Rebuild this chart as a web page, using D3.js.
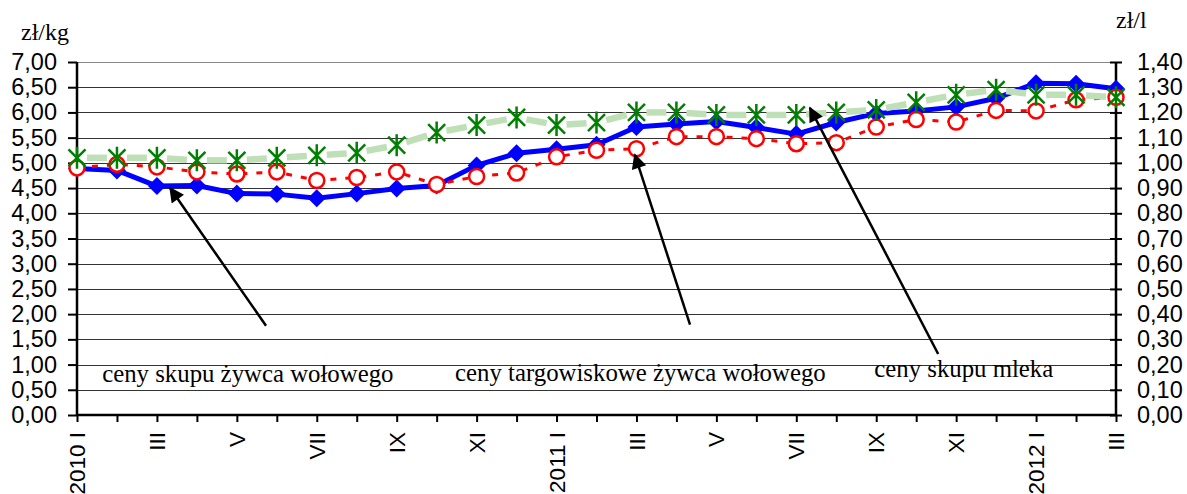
<!DOCTYPE html>
<html lang="pl">
<head>
<meta charset="utf-8">
<title>Ceny żywca wołowego i mleka</title>
<script src="https://d3js.org/d3.v7.min.js"></script>
<style>
  body { margin: 0; background: #fff; }
  svg { display: block; }
  .tick-lbl { font-family: "Liberation Sans", Arial, sans-serif; font-size: 23.5px; fill: #000; }
  .x-lbl { font-family: "Liberation Sans", Arial, sans-serif; font-size: 22.5px; fill: #000; }
  .unit, .note { font-family: "Liberation Serif", "Times New Roman", serif; fill: #000; }
  .unit { font-size: 24px; }
  .note { font-size: 24.8px; }
</style>
</head>
<body>
<div id="chart"></div>
<script>
// months 2010 I .. 2012 III
var months = ["2010 I","II","III","IV","V","VI","VII","VIII","IX","X","XI","XII",
              "2011 I","II","III","IV","V","VI","VII","VIII","IX","X","XI","XII",
              "2012 I","II","III"];

// ceny skupu żywca wołowego (zł/kg, left axis)
var skupWolowy = [4.89,4.85,4.54,4.55,4.39,4.38,4.30,4.39,4.49,4.55,4.95,5.19,
                  5.27,5.36,5.71,5.77,5.82,5.70,5.57,5.80,5.98,6.03,6.11,6.28,
                  6.58,6.57,6.47];

// ceny targowiskowe żywca wołowego (zł/kg, left axis)
var targWolowy = [4.90,4.97,4.92,4.82,4.78,4.82,4.65,4.71,4.82,4.57,4.73,4.80,
                  5.12,5.25,5.28,5.52,5.52,5.48,5.38,5.40,5.71,5.86,5.81,6.04,
                  6.03,6.25,6.30];

// ceny skupu mleka (zł/l, right axis)
var skupMleka = [1.02,1.02,1.02,1.01,1.01,1.02,1.03,1.04,1.07,1.12,1.15,1.18,
                 1.15,1.16,1.20,1.20,1.19,1.19,1.19,1.20,1.21,1.24,1.27,1.29,
                 1.27,1.27,1.26];

var leftTicks = d3.range(0, 7.01, 0.5);
var rightTicks = d3.range(0, 1.401, 0.1);

// annotations: [month index, value on left axis]
var notes = [
  {text: "ceny skupu żywca wołowego",        x: 0.63,  y: 0.66, tail: [4.73, 1.77],  tip: [2.33, 4.50]},
  {text: "ceny targowiskowe żywca wołowego", x: 9.46,  y: 0.68, tail: [15.34, 1.79], tip: [13.96, 5.16]},
  {text: "ceny skupu mleka",                 x: 19.95, y: 0.75, tail: [21.55, 1.21], tip: [18.34, 6.09]}
];

var W = 1187, H = 494;
var plot = {left: 77, right: 1116, top: 62, bottom: 415};

var svg = d3.select("#chart").append("svg")
  .attr("width", W).attr("height", H);

var x = d3.scaleLinear().domain([0, months.length - 1]).range([plot.left, plot.right]);
var yL = d3.scaleLinear().domain([0, 7]).range([plot.bottom, plot.top]);
var yR = d3.scaleLinear().domain([0, 1.4]).range([plot.bottom, plot.top]);
var fmt = function(v) { return d3.format(".2f")(v).replace(".", ","); };

// gridlines
svg.append("g").selectAll("line")
  .data(leftTicks.filter(function(d) { return d > 0; }))
  .enter().append("line")
  .attr("x1", plot.left).attr("x2", plot.right)
  .attr("y1", function(d) { return Math.round(yL(d)) + 0.5; })
  .attr("y2", function(d) { return Math.round(yL(d)) + 0.5; })
  .attr("stroke", function(d) { return d === 7 ? "#888" : "#333"; })
  .attr("stroke-width", 1.2);

// left axis
var gL = svg.append("g").attr("transform", "translate(" + plot.left + ",0)")
  .call(d3.axisLeft(yL).tickValues(leftTicks).tickFormat(fmt).tickSize(9).tickPadding(11));
// right axis (ticks cross the line)
var gR = svg.append("g").attr("transform", "translate(" + plot.right + ",0)")
  .call(d3.axisRight(yR).tickValues(rightTicks).tickFormat(fmt).tickSize(6).tickPadding(15));
gR.selectAll(".tick line").attr("x1", -6);
// bottom axis
var gX = svg.append("g").attr("transform", "translate(0," + plot.bottom + ")")
  .call(d3.axisBottom(x).tickValues(d3.range(months.length)).tickSize(7).tickFormat(""));

[gL, gR, gX].forEach(function(g) {
  g.select(".domain").attr("stroke", "#000").attr("stroke-width", 2.5);
  g.selectAll(".tick line").attr("stroke", "#000").attr("stroke-width", 2);
  g.selectAll(".tick text").attr("class", "tick-lbl").attr("font-size", null).attr("font-family", null);
});
gX.select(".domain").attr("d", "M" + plot.left + ",0H" + plot.right);
gL.select(".domain").attr("d", "M0," + plot.top + "V" + plot.bottom);
gR.select(".domain").attr("d", "M0," + plot.top + "V" + plot.bottom);

// month labels (odd months only)
svg.append("g").selectAll("text")
  .data(months.map(function(m, i) { return {m: m, i: i}; }).filter(function(d) { return d.i % 2 === 0; }))
  .enter().append("text")
  .attr("class", "x-lbl")
  .attr("text-anchor", "end")
  .attr("dy", "0.36em")
  .attr("transform", function(d) { return "translate(" + x(d.i) + "," + (plot.bottom + 17) + ") rotate(-90)"; })
  .text(function(d) { return d.m; });

// unit labels
svg.append("text").attr("class", "unit").attr("x", 21).attr("y", 40).text("zł/kg");
svg.append("text").attr("class", "unit").attr("x", 1116).attr("y", 28).text("zł/l");

// blue series
var lineL = d3.line().x(function(d, i) { return x(i); }).y(function(d) { return yL(d); });
svg.append("path").datum(skupWolowy)
  .attr("d", lineL).attr("fill", "none")
  .attr("stroke", "#0000ff").attr("stroke-width", 5).attr("stroke-linejoin", "round");
svg.append("g").selectAll("path")
  .data(skupWolowy).enter().append("path")
  .attr("transform", function(d, i) { return "translate(" + x(i) + "," + yL(d) + ")"; })
  .attr("d", "M0,-9L9,0L0,9L-9,0Z")
  .attr("fill", "#0000ff");

// red series
svg.append("path").datum(targWolowy)
  .attr("d", lineL).attr("fill", "none")
  .attr("stroke", "#ff0000").attr("stroke-width", 3).attr("stroke-dasharray", "6,9");
svg.append("g").selectAll("circle")
  .data(targWolowy).enter().append("circle")
  .attr("cx", function(d, i) { return x(i); })
  .attr("cy", function(d) { return yL(d); })
  .attr("r", 7.5)
  .attr("fill", "#fff").attr("stroke", "#ff0000").attr("stroke-width", 2.5);

// green series: thick pale segments with gaps at the markers
var gap = 10;
var segs = d3.pairs(skupMleka.map(function(d, i) { return [x(i), yR(d)]; }));
svg.append("g").selectAll("line")
  .data(segs).enter().append("line")
  .each(function(s) {
    var dx = s[1][0] - s[0][0], dy = s[1][1] - s[0][1];
    var len = Math.sqrt(dx * dx + dy * dy), ux = dx / len, uy = dy / len;
    d3.select(this)
      .attr("x1", s[0][0] + ux * gap).attr("y1", s[0][1] + uy * gap)
      .attr("x2", s[1][0] - ux * gap).attr("y2", s[1][1] - uy * gap);
  })
  .attr("stroke", "#bfe0b7").attr("stroke-width", 6.5);
svg.append("g").selectAll("path")
  .data(skupMleka).enter().append("path")
  .attr("transform", function(d, i) { return "translate(" + x(i) + "," + yR(d) + ")"; })
  .attr("d", "M-8.5,-8.5L8.5,8.5M-8.5,8.5L8.5,-8.5M0,-11V11")
  .attr("stroke", "#008000").attr("stroke-width", 2.5).attr("fill", "none");

// annotations
svg.append("defs").append("marker")
  .attr("id", "arr").attr("viewBox", "0 0 10 10")
  .attr("refX", 9).attr("refY", 5)
  .attr("markerWidth", 7).attr("markerHeight", 6)
  .attr("orient", "auto")
  .append("path").attr("d", "M0,0L10,5L0,10Z").attr("fill", "#000");

var ng = svg.append("g");
notes.forEach(function(n) {
  ng.append("line")
    .attr("x1", x(n.tail[0])).attr("y1", yL(n.tail[1]))
    .attr("x2", x(n.tip[0])).attr("y2", yL(n.tip[1]))
    .attr("stroke", "#000").attr("stroke-width", 2.5)
    .attr("marker-end", "url(#arr)");
  ng.append("text").attr("class", "note")
    .attr("x", x(n.x)).attr("y", yL(n.y))
    .text(n.text);
});
</script>
</body>
</html>
